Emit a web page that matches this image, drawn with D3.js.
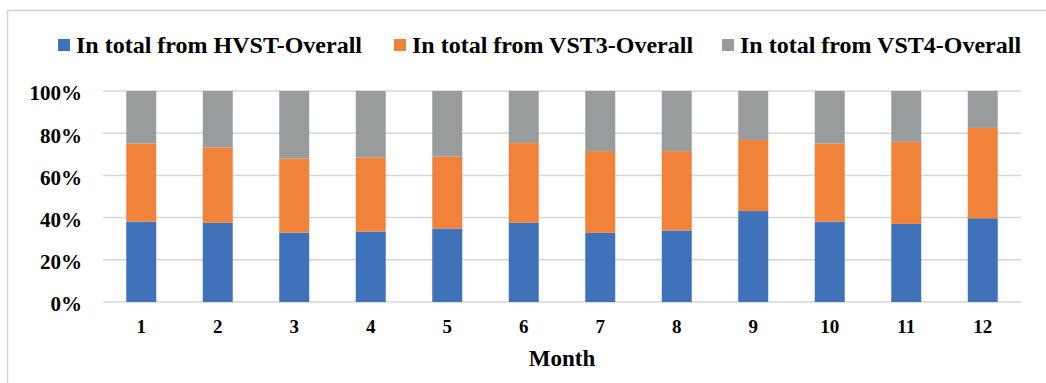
<!DOCTYPE html>
<html>
<head>
<meta charset="utf-8">
<script src="https://cdn.jsdelivr.net/npm/d3@7/dist/d3.min.js"></script>
<style>
  html, body { margin: 0; padding: 0; background: #fff; }
  svg { display: block; }
  text { font-family: "Liberation Serif", "Times New Roman", serif; font-weight: bold; fill: #000; }
</style>
</head>
<body>
<svg id="chart" width="1046" height="383"></svg>
<script>
// Monthly shares of each source (fractions of the total)
const months = ["1", "2", "3", "4", "5", "6", "7", "8", "9", "10", "11", "12"];
const hvst = [0.381, 0.375, 0.329, 0.334, 0.348, 0.375, 0.328, 0.339, 0.431, 0.381, 0.370, 0.397];
const vst3 = [0.370, 0.358, 0.351, 0.351, 0.342, 0.378, 0.387, 0.376, 0.337, 0.370, 0.389, 0.428];
const vst4 = [0.249, 0.267, 0.320, 0.315, 0.310, 0.247, 0.285, 0.285, 0.232, 0.249, 0.241, 0.175];
const seriesNames = ["In total from HVST-Overall", "In total from VST3-Overall", "In total from VST4-Overall"];
const yTicks = [0, 0.2, 0.4, 0.6, 0.8, 1.0];
const xTitle = "Month";

const colors = ["#4072B9", "#F08239", "#999C9D"];

const rows = months.map((m, i) => ({ month: m, s0: hvst[i], s1: vst3[i], s2: vst4[i] }));
const keys = ["s0", "s1", "s2"];
const stacked = d3.stack().keys(keys)(rows);

const svg = d3.select("#chart");

// Outer frame (left and top edges)
svg.append("path")
  .attr("d", "M7.5,383 L7.5,10.5 L1046,10.5")
  .attr("fill", "none")
  .attr("stroke", "#d3d3d3")
  .attr("stroke-width", 1.5);

const x = d3.scaleBand()
  .domain(months)
  .range([103, 1021])
  .paddingInner(0.608)
  .paddingOuter(0.304);

const y = d3.scaleLinear().domain([0, 1]).range([302, 91]);

// Horizontal gridlines
svg.append("g")
  .selectAll("line")
  .data(yTicks)
  .join("line")
  .attr("x1", 103)
  .attr("x2", 1021)
  .attr("y1", d => y(d))
  .attr("y2", d => y(d))
  .attr("stroke", "#d6d6d6")
  .attr("stroke-width", 1.5);

// Stacked bars
svg.append("g")
  .selectAll("g")
  .data(stacked)
  .join("g")
  .attr("fill", (d, i) => colors[i])
  .selectAll("rect")
  .data(d => d)
  .join("rect")
  .attr("x", d => x(d.data.month))
  .attr("width", x.bandwidth())
  .attr("y", d => y(d[1]))
  .attr("height", d => y(d[0]) - y(d[1]));

// Y axis labels
const yAxis = d3.axisLeft(y)
  .tickValues(yTicks)
  .tickFormat(d3.format(".0%"))
  .tickSize(0)
  .tickPadding(0);
const gy = svg.append("g").attr("transform", "translate(82,0)").call(yAxis);
gy.select(".domain").remove();
gy.selectAll("text")
  .attr("font-family", "Liberation Serif")
  .attr("font-weight", "bold")
  .attr("font-size", 21)
  .attr("fill", "#000")
  .attr("dy", "0.42em");

// X axis labels
const xAxis = d3.axisBottom(x).tickSize(0).tickPadding(0);
const gx = svg.append("g").attr("transform", "translate(0,302)").call(xAxis);
gx.select(".domain").remove();
gx.selectAll("text")
  .attr("font-family", "Liberation Serif")
  .attr("font-weight", "bold")
  .attr("font-size", 19)
  .attr("fill", "#000")
  .attr("y", 31)
  .attr("dy", 0);

// X axis title
svg.append("text")
  .attr("x", 562)
  .attr("y", 366)
  .attr("text-anchor", "middle")
  .attr("font-size", 23)
  .text(xTitle);

// Legend
const legendX = [58, 394, 722];
const legend = svg.append("g")
  .selectAll("g")
  .data(seriesNames)
  .join("g")
  .attr("transform", (d, i) => `translate(${legendX[i]},0)`);
legend.append("rect")
  .attr("x", 0)
  .attr("y", 39)
  .attr("width", 12)
  .attr("height", 12)
  .attr("fill", (d, i) => colors[i]);
legend.append("text")
  .attr("x", 18)
  .attr("y", 52.5)
  .attr("font-size", 24)
  .text(d => d);
</script>
</body>
</html>
